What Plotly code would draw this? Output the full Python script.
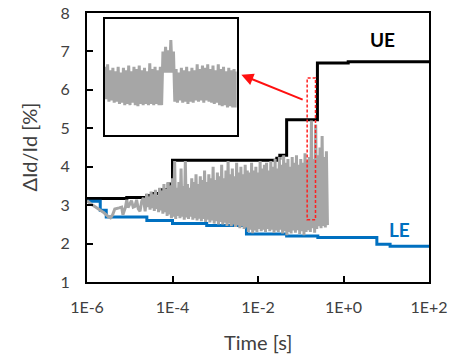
import numpy as np
import plotly.graph_objects as go

# ---------------- data ----------------
# Upper envelope (UE), step line: log10(time) and dId/Id [%]
ue_log_t = [-6.0, -5.07, -4.6, -4.49, -4.29, -4.1, -4.0, -1.56, -1.49, -1.33, -0.61, 0.11, 2.0]
ue_val = [3.17, 3.20, 3.25, 3.30, 3.40, 3.55, 4.17, 4.22, 4.30, 5.22, 6.70, 6.73, 6.73]

# Lower envelope (LE), step line
le_log_t = [-6.0, -5.69, -5.55, -4.6, -4.0, -3.2, -2.27, -1.33, -0.6, 0.78, 1.09, 2.0]
le_val = [3.10, 2.87, 2.69, 2.60, 2.52, 2.47, 2.25, 2.20, 2.16, 1.98, 1.93, 1.93]

# Measured trace, early (sparse) part
gray_early_log_t = [-6.0, -5.9, -5.8, -5.7, -5.6, -5.5, -5.45, -5.4, -5.35, -5.25, -5.19, -5.16,
                    -5.1, -5.07, -5.04, -4.99, -4.96, -4.92, -4.88, -4.84, -4.8, -4.76, -4.72,
                    -4.68, -4.64]
gray_early_val = [3.12, 3.02, 2.95, 2.88, 2.80, 2.70, 2.67, 2.75, 2.90, 2.93, 2.95, 2.75,
                  2.95, 3.14, 2.94, 3.05, 3.12, 2.95, 2.97, 3.14, 2.90, 2.84, 3.10,
                  3.19, 2.84]

# Measured trace, dense noisy part: peaks (at -4.60, -4.55, ... -0.40) and troughs (half a step later)
gray_dense_start = -4.60
gray_dense_step = 0.05
gray_peak = [3.30, 3.22, 3.35, 3.28, 3.40, 3.25, 3.45, 3.38, 3.55, 3.42,
             3.60, 3.50, 3.70, 4.15, 3.45, 3.60, 3.95, 3.50, 4.15, 3.55,
             3.45, 3.70, 3.60, 3.80, 3.55, 3.75, 3.65, 3.90, 3.60, 3.80,
             3.70, 4.00, 3.65, 3.85, 3.75, 4.05, 3.70, 3.90, 4.15, 3.80,
             3.95, 3.75, 4.10, 3.85, 4.00, 3.80, 4.05, 3.90, 3.85, 4.10,
             3.90, 4.00, 3.85, 4.15, 3.95, 4.05, 4.10, 3.90, 4.15, 4.00,
             4.20, 3.95, 4.25, 4.05, 4.30, 4.10, 4.20, 4.00, 4.25, 4.10,
             4.30, 4.05, 4.20, 4.10, 4.35, 4.15, 4.25, 5.20, 4.20, 5.10,
             4.30, 4.50, 4.80, 4.25, 4.40]
gray_trough = [2.95, 2.88, 2.92, 2.85, 2.90, 2.82, 2.86, 2.78, 2.82, 2.72,
               2.76, 2.66, 2.70, 2.64, 2.72, 2.66, 2.70, 2.62, 2.68, 2.64,
               2.70, 2.62, 2.66, 2.60, 2.65, 2.58, 2.64, 2.56, 2.62, 2.55,
               2.60, 2.52, 2.58, 2.50, 2.56, 2.50, 2.54, 2.46, 2.52, 2.45,
               2.50, 2.43, 2.48, 2.40, 2.45, 2.38, 2.42, 2.30, 2.36, 2.27,
               2.34, 2.30, 2.38, 2.32, 2.36, 2.30, 2.38, 2.32, 2.36, 2.28,
               2.34, 2.30, 2.36, 2.26, 2.32, 2.22, 2.30, 2.26, 2.34, 2.28,
               2.35, 2.25, 2.32, 2.22, 2.30, 2.35, 2.30, 2.40, 2.28, 2.38,
               2.45, 2.40, 2.46, 2.42, 2.48]

# Inset: zoomed view of the trace (arbitrary units), alternating peak / trough samples
inset_val = [5.9, 3.1, 6.1, 2.9, 5.6, 3.0, 5.8, 2.8, 5.5, 2.9,
             5.9, 2.7, 5.4, 2.8, 5.8, 2.6, 5.6, 2.7, 6.0, 2.6,
             5.5, 2.8, 5.9, 2.6, 5.7, 2.5, 6.0, 2.7, 5.6, 2.6,
             5.8, 2.7, 5.5, 2.6, 6.2, 2.7, 5.7, 2.6, 5.9, 2.7,
             5.6, 2.6, 5.9, 2.6, 7.2, 5.4, 7.6, 5.4, 7.3, 5.4,
             8.2, 5.4, 7.2, 2.9, 5.7, 2.8, 5.4, 3.0, 5.8, 2.8,
             5.6, 2.9, 5.9, 2.7, 5.5, 2.9, 5.8, 2.8, 5.6, 3.0,
             6.1, 2.9, 5.7, 3.0, 6.0, 2.8, 5.8, 3.0, 6.1, 2.9,
             5.7, 2.8, 6.0, 2.7, 5.6, 2.8, 6.1, 2.6, 5.7, 2.5,
             5.9, 2.6, 5.5, 2.4, 5.8, 2.5, 5.6, 2.4, 5.7, 2.4,
             5.5]

# Zoom window (red dashed box), in data units
zoom_t = [10 ** -0.85, 10 ** -0.655]
zoom_v = [2.62, 6.31]

x_tickvals = [1e-6, 1e-4, 1e-2, 1e0, 1e2]
x_ticktext = ["1E-6", "1E-4", "1E-2", "1E+0", "1E+2"]

# ---------------- build series ----------------
dense_t, dense_v = [], []
for i, (p, tr) in enumerate(zip(gray_peak, gray_trough)):
    e = gray_dense_start + i * gray_dense_step
    dense_t += [e, e + gray_dense_step / 2]
    dense_v += [p, tr]
gray_t = [10 ** e for e in gray_early_log_t + dense_t]
gray_v = gray_early_val + dense_v

ue_t = [10 ** e for e in ue_log_t]
le_t = [10 ** e for e in le_log_t]
inset_x = list(range(len(inset_val)))

FONT = "Lato"
TXT = "#404040"
BLUE = "#0070C0"
GRAY = "#A6A6A6"

fig = go.Figure()
fig.add_trace(go.Scatter(x=ue_t, y=ue_val, mode="lines", line=dict(color="black", width=3, shape="hv"),
                         showlegend=False, hoverinfo="skip"))
fig.add_trace(go.Scatter(x=le_t, y=le_val, mode="lines", line=dict(color=BLUE, width=3, shape="hv"),
                         showlegend=False, hoverinfo="skip"))
fig.add_trace(go.Scatter(x=gray_t, y=gray_v, mode="lines", line=dict(color=GRAY, width=3),
                         showlegend=False, hoverinfo="skip"))
fig.add_trace(go.Scatter(x=inset_x, y=inset_val, mode="lines", line=dict(color=GRAY, width=3),
                         xaxis="x2", yaxis="y2", showlegend=False, hoverinfo="skip"))

axis_common = dict(showline=True, linewidth=2, linecolor="black", mirror=True, showgrid=False,
                   zeroline=False, ticks="inside", ticklen=6, tickwidth=2, tickcolor="black",
                   automargin=False, tickfont=dict(family=FONT, size=16, color=TXT))

fig.update_layout(
    width=456, height=358,
    margin=dict(l=87, r=27, t=13, b=76),
    paper_bgcolor="white", plot_bgcolor="white",
    font=dict(family=FONT, color=TXT),
    hovermode=False,
    xaxis=dict(type="log", range=[-6, 2], tickvals=x_tickvals, ticktext=x_ticktext,
               ticklabelstandoff=10, **axis_common),
    yaxis=dict(range=[1, 8], dtick=1, tick0=1, ticklabelstandoff=12, **axis_common),
    xaxis2=dict(domain=[0.0526, 0.4377], anchor="y2", range=[0, 100], showline=True, linewidth=2,
                linecolor="black", mirror=True, showgrid=False, zeroline=False, showticklabels=False,
                ticks="", automargin=False),
    yaxis2=dict(domain=[0.545, 0.9777], anchor="x2", range=[0, 10], showline=True, linewidth=2,
                linecolor="black", mirror=True, showgrid=False, zeroline=False, showticklabels=False,
                ticks="", automargin=False),
)

fig.add_shape(type="rect", xref="x", yref="y", x0=zoom_t[0], x1=zoom_t[1], y0=zoom_v[0], y1=zoom_v[1],
              line=dict(color="#FF2020", width=1.5, dash="3px,2px"))

fig.add_annotation(x=-2.39, y=6.39, ax=-0.92, ay=5.73, xref="x", yref="y", axref="x", ayref="y",
                   text="", showarrow=True, arrowhead=2, arrowsize=1.2, arrowwidth=2,
                   arrowcolor="#FF1010", standoff=0)

fig.add_annotation(x=0.92, y=7.3, xref="x", yref="y", text="<b>UE</b>", showarrow=False,
                   font=dict(family=FONT, size=19, color="black"))
fig.add_annotation(x=1.32, y=2.36, xref="x", yref="y", text="<b>LE</b>", showarrow=False,
                   font=dict(family=FONT, size=19, color=BLUE))

fig.add_annotation(x=0.5, y=-0.222, xref="paper", yref="paper", text="Time [s]", showarrow=False,
                   xanchor="center", yanchor="middle", font=dict(family=FONT, size=20, color=TXT))
fig.add_annotation(x=-0.1725, y=0.5, xref="paper", yref="paper", text="ΔId/Id [%]", showarrow=False,
                   xanchor="center", yanchor="middle", textangle=-90,
                   font=dict(family=FONT, size=20, color=TXT))

# remove the browser's default 8 px page margin so the figure fills the window exactly
fig.write_html("out.html", config={"displayModeBar": False},
               post_script="document.body.style.margin='0px';")
